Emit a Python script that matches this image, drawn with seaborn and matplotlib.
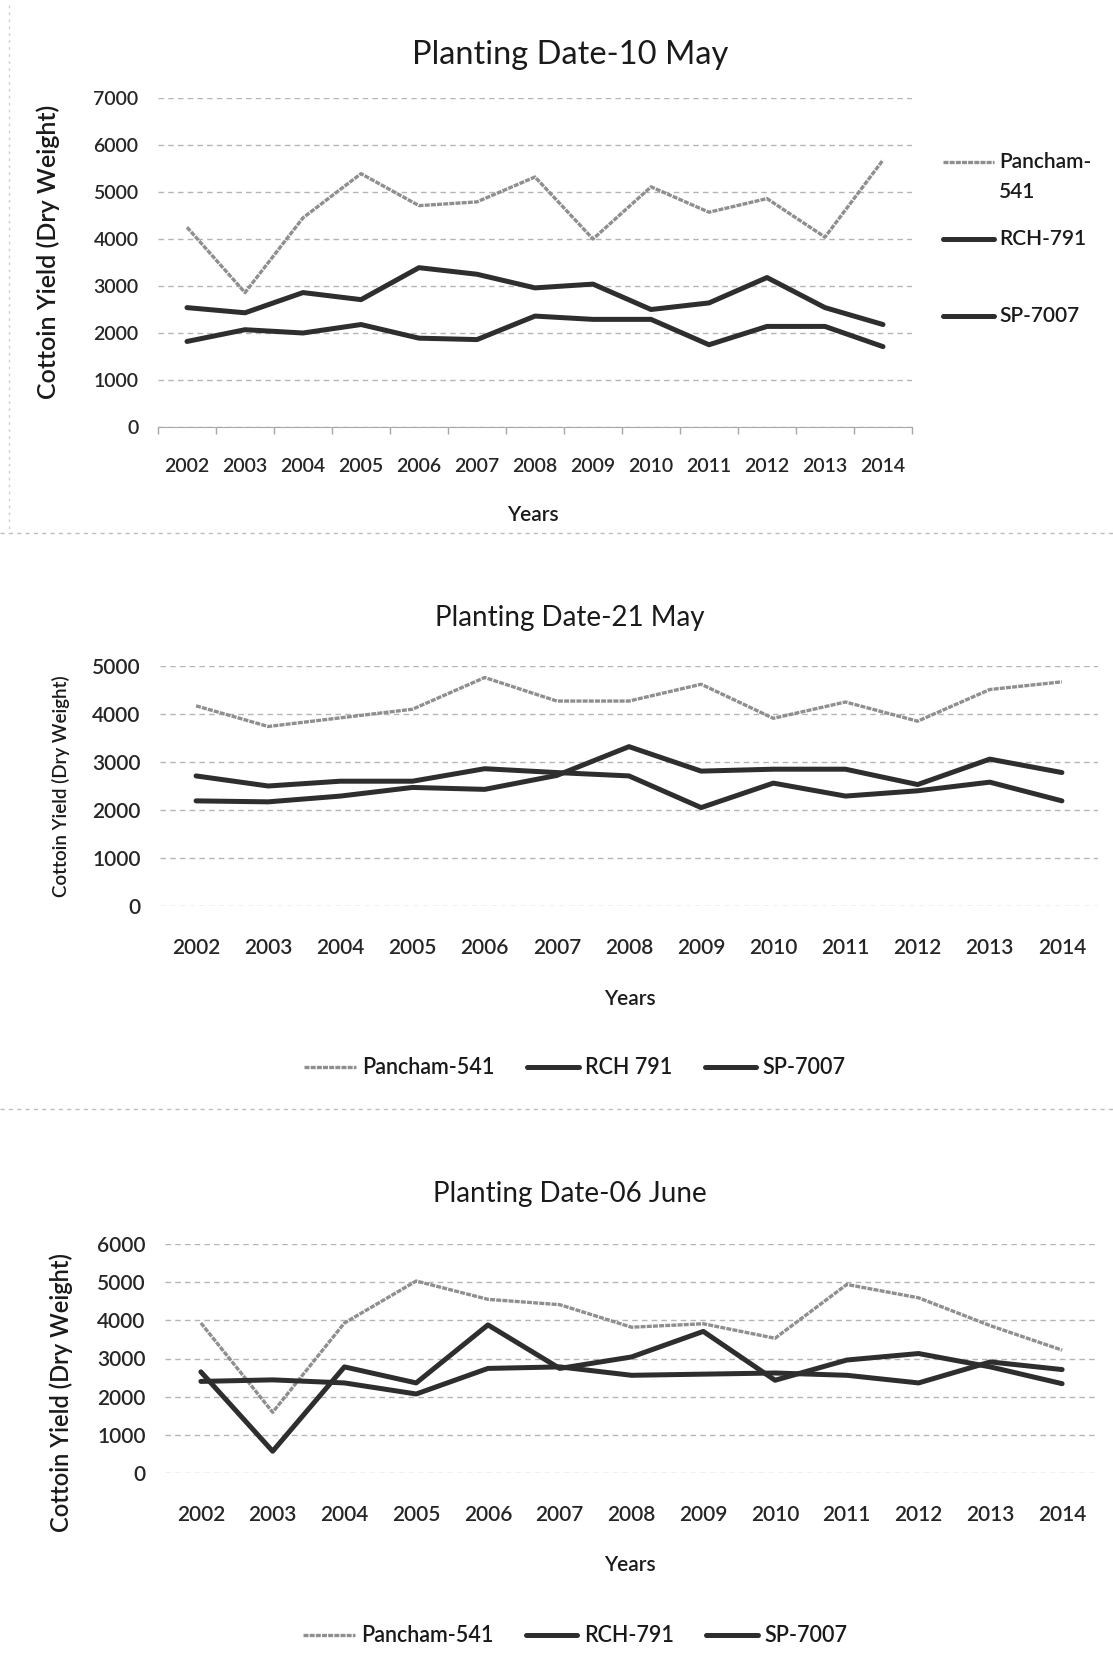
import matplotlib
matplotlib.use('Agg')
from matplotlib import pyplot as plt
from matplotlib.lines import Line2D
import numpy as np
import pandas as pd
import seaborn as sns

# data
years = [2002, 2003, 2004, 2005, 2006, 2007, 2008, 2009, 2010, 2011, 2012, 2013, 2014]

may10_pancham = [4250, 2860, 4450, 5390, 4710, 4790, 5320, 4000, 5110, 4570, 4860, 4040, 5680]
may10_rch = [2540, 2430, 2860, 2710, 3390, 3250, 2960, 3040, 2500, 2640, 3180, 2540, 2180]
may10_sp = [1820, 2070, 2000, 2180, 1890, 1860, 2360, 2290, 2290, 1750, 2140, 2140, 1710]

may21_pancham = [4170, 3740, 3920, 4100, 4760, 4270, 4270, 4620, 3910, 4250, 3850, 4510, 4670]
may21_rch = [2710, 2500, 2600, 2600, 2860, 2780, 2710, 2050, 2560, 2290, 2400, 2580, 2190]
may21_sp = [2190, 2170, 2290, 2470, 2430, 2720, 3320, 2810, 2850, 2850, 2530, 3060, 2780]

jun06_pancham = [3930, 1590, 3930, 5030, 4550, 4410, 3820, 3910, 3530, 4940, 4590, 3860, 3220]
jun06_rch = [2650, 570, 2780, 2360, 3880, 2740, 3040, 3710, 2430, 2960, 3130, 2780, 2340]
jun06_sp = [2400, 2440, 2360, 2070, 2740, 2780, 2560, 2590, 2620, 2560, 2360, 2910, 2710]

W, H = 1113, 1671
LIGHT = '#8f8f8f'
DARK = '#2e2e2e'
BEADS = (0, (1.5, 0.35))
WT = 'semibold'

sns.set_style('white')
plt.rcParams['font.family'] = ['Lato', 'DejaVu Sans']
plt.rcParams['text.color'] = '#1a1a1a'

fig = plt.figure(figsize=(W / 100, H / 100), dpi=100)


def px_axes(left, top, right, bottom):
    # pixel box -> figure fraction
    return fig.add_axes([left / W, 1 - bottom / H, (right - left) / W, (bottom - top) / H])


def fy(y):
    return 1 - y / H


def draw_panel(ax, pancham, rch, sp, names, ymax, tick_fs, xpad):
    df = pd.DataFrame({'year': years * 3,
                       'yield': pancham + rch + sp,
                       'variety': [names[0]] * 13 + [names[1]] * 13 + [names[2]] * 13})
    sns.lineplot(data=df, x='year', y='yield', hue='variety', hue_order=names,
                 palette=[LIGHT, DARK, DARK], ax=ax, legend=False)
    widths = [2.4, 3.6, 3.6]
    lines = ax.get_lines()
    for line, lw in zip(lines, widths):
        line.set_linewidth(lw)
    # the light series is a beaded line in the scan
    lines[0].set_linestyle(BEADS)
    ax.set_xlim(2001.5, 2014.5)
    ax.set_ylim(0, ymax)
    ax.set_yticks(range(0, ymax + 1, 1000))
    ax.set_xticks(years)
    ax.set_xticklabels([str(y) for y in years])
    ax.grid(axis='y', color='#b5b5b5', linestyle=(0, (4, 3)), linewidth=1)
    ax.set_axisbelow(True)
    for s in ax.spines.values():
        s.set_visible(False)
    ax.tick_params(axis='both', length=0, labelsize=tick_fs, pad=14)
    ax.tick_params(axis='x', pad=xpad)
    for lab in ax.get_xticklabels() + ax.get_yticklabels():
        lab.set_fontweight(WT)
    ax.set_xlabel('')
    ax.set_ylabel('')
    handles = [Line2D([], [], color=c, lw=lw, linestyle=ls)
               for c, lw, ls in zip([LIGHT, DARK, DARK], widths, [BEADS, '-', '-'])]
    return handles


# panel 1
ax1 = px_axes(158, 98, 912, 427)
h1 = draw_panel(ax1, may10_pancham, may10_rch, may10_sp,
                ['Pancham-541', 'RCH-791', 'SP-7007'], 7000, 14, 22)
# category axis line with small ticks between the years
ax1.spines['bottom'].set_visible(True)
ax1.spines['bottom'].set_color('#a8a8a8')
ax1.set_xticks(np.arange(2001.5, 2015, 1), minor=True)
ax1.tick_params(axis='x', which='minor', bottom=True, length=5, width=1,
                color='#a8a8a8', direction='out')
fig.text(570 / W, fy(55), 'Planting Date-10 May', ha='center', va='center', fontsize=23.5)
fig.text(48 / W, fy(252), 'Cottoin Yield (Dry Weight)', rotation=90, ha='center', va='center',
         fontsize=18, fontweight=WT)
fig.text(533 / W, fy(515), 'Years', ha='center', va='center', fontsize=15, fontweight=WT)
# right-hand legend of the first chart, entries spaced as in the original
for h, ls, label, yy in zip(h1, [BEADS, '-', '-'], ['Pancham-', 'RCH-791', 'SP-7007'], [162, 239, 316]):
    fig.add_artist(Line2D([943 / W, 994 / W], [fy(yy), fy(yy)], transform=fig.transFigure,
                          color=h.get_color(), lw=h.get_linewidth(), linestyle=ls))
    fig.text(999 / W, fy(yy), label, ha='left', va='center', fontsize=15, fontweight=WT)
fig.text(999 / W, fy(192), '541', ha='left', va='center', fontsize=15, fontweight=WT)

# panel 2
ax2 = px_axes(160, 666, 1098, 906)
h2 = draw_panel(ax2, may21_pancham, may21_rch, may21_sp,
                ['Pancham-541', 'RCH 791', 'SP-7007'], 5000, 15, 23)
fig.text(570 / W, fy(618), 'Planting Date-21 May', ha='center', va='center', fontsize=20)
fig.text(61 / W, fy(786), 'Cottoin Yield (Dry Weight)', rotation=90, ha='center', va='center',
         fontsize=13.5, fontweight=WT)
fig.text(630 / W, fy(999), 'Years', ha='center', va='center', fontsize=15, fontweight=WT)
leg2 = ax2.legend(h2, ['Pancham-541', 'RCH 791', 'SP-7007'], loc='center',
                  bbox_to_anchor=(575 / W, fy(1068)), bbox_transform=fig.transFigure, ncol=3,
                  frameon=False, fontsize=15.5, handlelength=2.4, columnspacing=1.5, handletextpad=0.3)

# panel 3
ax3 = px_axes(165, 1244, 1098, 1473)
h3 = draw_panel(ax3, jun06_pancham, jun06_rch, jun06_sp,
                ['Pancham-541', 'RCH-791', 'SP-7007'], 6000, 15, 23)
fig.text(570 / W, fy(1194), 'Planting Date-06 June', ha='center', va='center', fontsize=20)
fig.text(61 / W, fy(1392), 'Cottoin Yield (Dry Weight)', rotation=90, ha='center', va='center',
         fontsize=17, fontweight=WT)
fig.text(630 / W, fy(1565), 'Years', ha='center', va='center', fontsize=15, fontweight=WT)
leg3 = ax3.legend(h3, ['Pancham-541', 'RCH-791', 'SP-7007'], loc='center',
                  bbox_to_anchor=(575 / W, fy(1636)), bbox_transform=fig.transFigure, ncol=3,
                  frameon=False, fontsize=15.5, handlelength=2.4, columnspacing=1.5, handletextpad=0.3)
for leg in (leg2, leg3):
    for t in leg.get_texts():
        t.set_fontweight(WT)

# faint dashed separators between the pasted chart boxes
for yy in (533, 1109):
    fig.add_artist(Line2D([0.0, 1.0], [fy(yy), fy(yy)], transform=fig.transFigure,
                          color='#bdbdbd', lw=1, linestyle=(0, (3, 3))))
fig.add_artist(Line2D([9 / W, 9 / W], [fy(5), fy(533)], transform=fig.transFigure,
                      color='#d0d0d0', lw=1, linestyle=(0, (2, 3))))

fig.savefig('out.png', dpi=100, facecolor='white')
